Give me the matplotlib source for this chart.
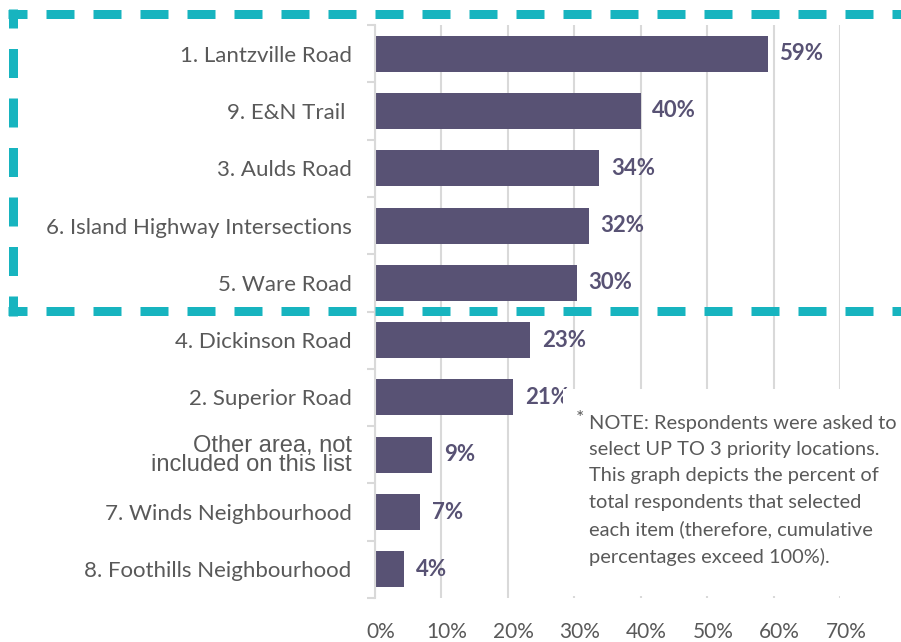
import matplotlib
matplotlib.use('Agg')
import matplotlib.pyplot as plt
from matplotlib.lines import Line2D
from matplotlib.patches import Rectangle
from matplotlib.transforms import ScaledTranslation

# data (top to bottom)
categories = ['1. Lantzville Road', '9. E&N Trail ', '3. Aulds Road',
              '6. Island Highway Intersections', '5. Ware Road',
              '4. Dickinson Road', '2. Superior Road',
              'Other area, not\nincluded on this list',
              '7. Winds Neighbourhood', '8. Foothills Neighbourhood']
pct = [59.1, 40.0, 33.8, 32.2, 30.4, 23.4, 20.8, 8.7, 6.9, 4.4]
xticks = [0, 10, 20, 30, 40, 50, 60, 70]

note = ('NOTE: Respondents were asked to\n'
        'select UP TO 3 priority locations.\n'
        'This graph depicts the percent of\n'
        'total respondents that selected\n'
        'each item (therefore, cumulative\n'
        'percentages exceed 100%).')

BAR = '#585274'
GRID = '#d9d9d9'
TXT = '#595959'
TEAL = '#17b4bf'
W, H = 901, 642
PT = 0.72  # points per pixel at 100 dpi

plt.rcParams['font.family'] = ['Lato', 'DejaVu Sans']
plt.rcParams['lines.scale_dashes'] = False

fig = plt.figure(figsize=(W / 100, H / 100), dpi=100, facecolor='white')

def fx(px):
    return px / W

def fy(py):
    return 1 - py / H

ax = fig.add_axes([fx(374.5), fy(598), fx(840 - 374.5), (598 - 25) / H])
ypos = list(range(len(categories)))
ax.barh(ypos, pct, height=0.63, color=BAR, zorder=2)
ax.set_xlim(0, 70)
ax.set_ylim(len(categories) - 0.5, -0.5)

for y, v in zip(ypos, pct):
    ax.annotate(f'{v:.0f}%', (v, y), xytext=(8.5, 0), textcoords='offset points',
                va='center', ha='left', fontsize=16, fontweight='bold', color=BAR)

# axes styling
for s in ['top', 'right', 'bottom']:
    ax.spines[s].set_visible(False)
ax.spines['left'].set_color(GRID)
ax.spines['left'].set_linewidth(1.5)
ax.set_xticks(xticks)
ax.set_xticklabels([f'{t}%' for t in xticks], fontsize=15, color=TXT)
ax.xaxis.grid(True, color=GRID, linewidth=1.5, zorder=0)
ax.set_axisbelow(True)
ax.tick_params(axis='x', length=0, pad=17)
off = ScaledTranslation(6 / 100, 0, fig.dpi_scale_trans)
for lbl in ax.get_xticklabels():
    lbl.set_transform(lbl.get_transform() + off)

ax.set_yticks(ypos)
ax.set_yticklabels(categories, fontsize=16, color=TXT)
ax.set_yticks([y - 0.5 for y in ypos] + [len(ypos) - 0.5], minor=True)
ax.tick_params(axis='y', which='major', length=0, pad=16.5)
ax.tick_params(axis='y', which='minor', length=6, width=1.5, color=GRID)
for lbl in ax.get_yticklabels():
    if lbl.get_text().startswith('Other'):
        lbl.set_fontfamily(['Liberation Sans'])
        lbl.set_fontsize(17)
        lbl.set_linespacing(0.8)

# note box covering the gridlines
fig.add_artist(Rectangle((fx(563), fy(596)), fx(W - 563), (596 - 389) / H,
                         transform=fig.transFigure, facecolor='white',
                         edgecolor='none', zorder=5))
fig.text(fx(576), fy(410), '*', fontsize=14, color=TXT, ha='left', va='top', zorder=6)
fig.text(fx(589), fy(415), note, fontsize=14.4, color=TXT, ha='left', va='top',
         linespacing=1.66, zorder=6)

# dashed teal highlight frame
kw = dict(color=TEAL, linewidth=9 * PT, dash_capstyle='butt',
          transform=fig.transFigure, zorder=7)
hdash = (9 * PT, (28 * PT, 19 * PT))
vdash = (10 * PT, (29 * PT, 20.5 * PT))
fig.add_artist(Line2D([fx(8), fx(960)], [fy(13.5), fy(13.5)], linestyle=hdash, **kw))
fig.add_artist(Line2D([fx(8), fx(960)], [fy(311), fy(311)], linestyle=hdash, **kw))
fig.add_artist(Line2D([fx(12.5), fx(12.5)], [fy(9), fy(315.5)], linestyle=vdash, **kw))

fig.savefig('out.png', dpi=100, facecolor='white')
